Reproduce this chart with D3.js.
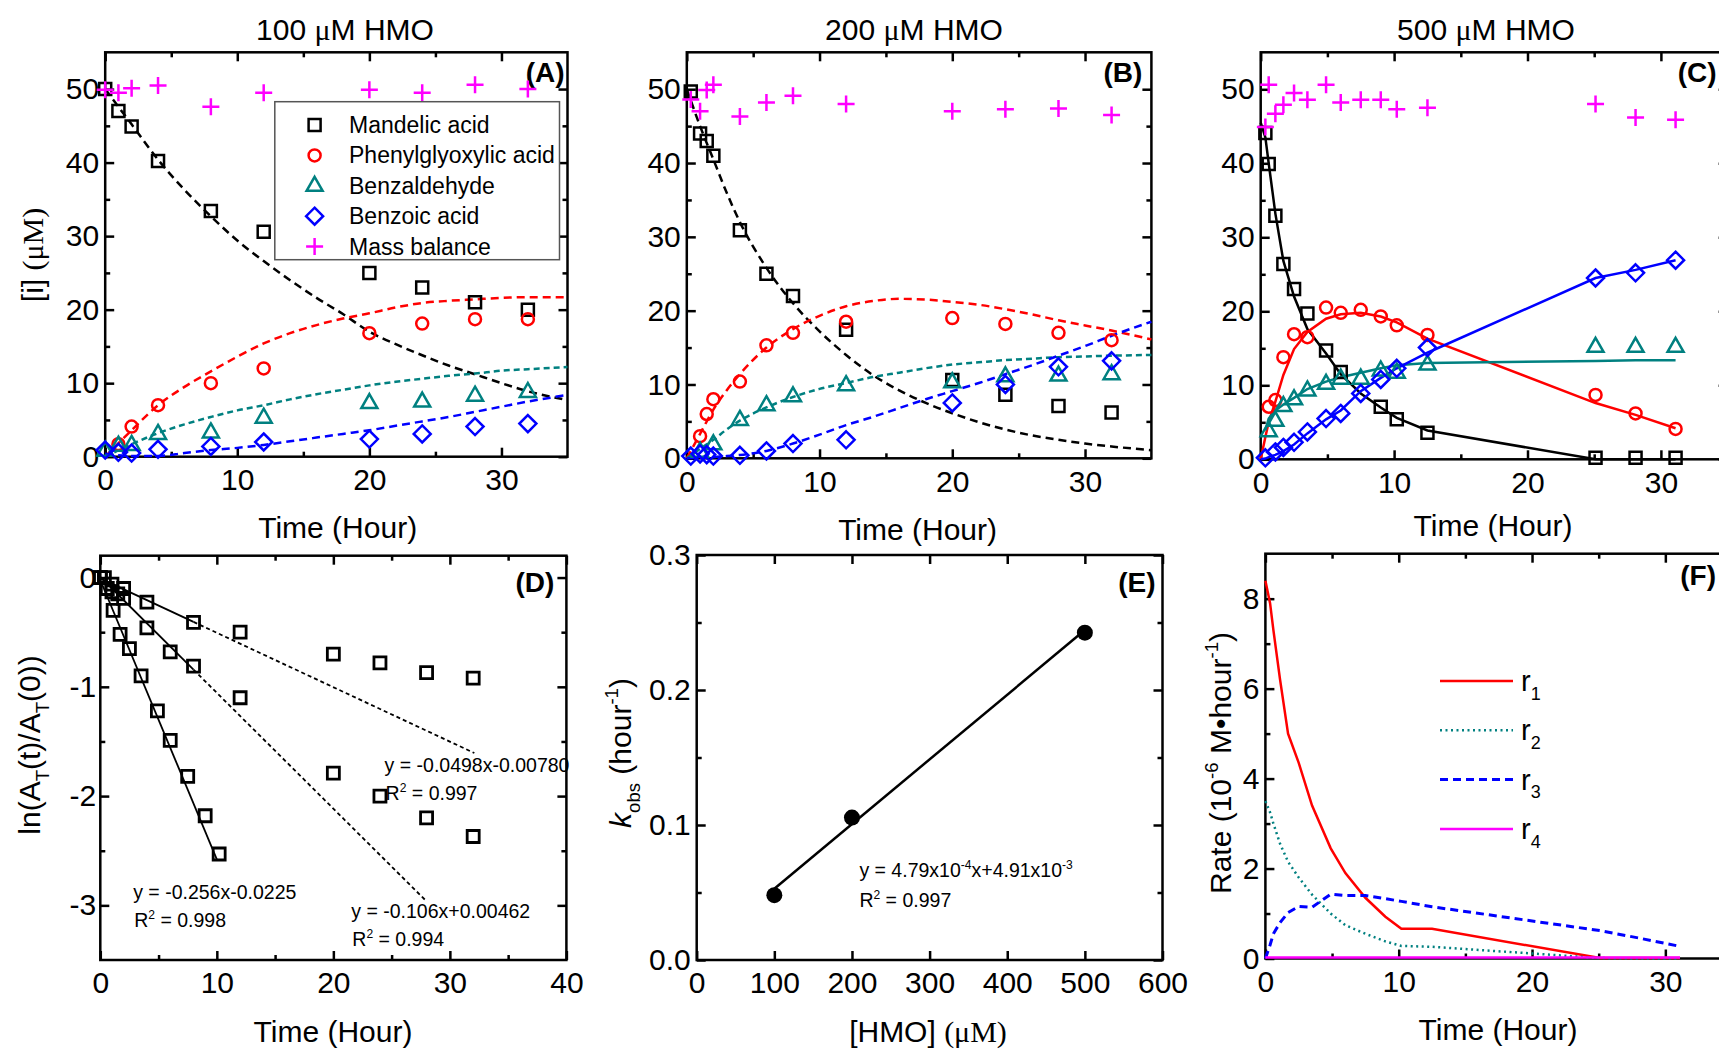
<!DOCTYPE html>
<html>
<head>
<meta charset="utf-8">
<script src="https://cdn.jsdelivr.net/npm/d3@7"></script>
<style>
body { margin: 0; background: #fff; }
svg { display: block; font-family: 'Liberation Sans', Arial, sans-serif; }
</style>
</head>
<body>
<div id="root"></div>
<script>
// ---- panel A : 100 uM HMO ----
const timeA = [0, 1, 2, 4, 8, 12, 20, 24, 28, 32];
const mandelicA = [50, 47, 44.9, 40.2, 33.4, 30.6, 25.0, 23.0, 21.0, 20.0];
const phenylA = [null, 1.7, 4.1, 7.0, 10.0, 12.0, 16.8, 18.1, 18.7, 18.7];
const benzaldehydeA = [0.8, 1.5, 1.6, 3.1, 3.3, 5.3, 7.3, 7.5, 8.3, 8.8];
const benzoicA = [0.9, 0.6, 0.5, 1.0, 1.4, 2.0, 2.4, 3.1, 4.1, 4.5];
const massA = [49.9, 49.5, 50.1, 50.5, 47.6, 49.5, 49.9, 49.5, 50.6, 50.0];
const fitTimeA = [0, 2, 4, 6, 8, 10, 12, 14, 16, 18, 20, 22, 24, 26, 28, 30, 32, 35];
const fitMandelicA = [50, 45.2, 40.4, 36.3, 32.7, 29.4, 26.6, 24.0, 21.6, 19.4, 17.0, 15.3, 13.8, 12.4, 11.2, 10.0, 8.9, 7.7];
const fitPhenylA = [0, 3.6, 7.0, 9.5, 11.6, 13.6, 15.4, 16.8, 17.9, 18.8, 19.5, 20.3, 20.9, 21.2, 21.4, 21.6, 21.7, 21.7];
const fitBenzaldehydeA = [0, 1.7, 3.2, 4.4, 5.4, 6.3, 7.0, 7.8, 8.5, 9.1, 9.7, 10.2, 10.6, 11.0, 11.3, 11.7, 11.9, 12.2];
const fitBenzoicA = [0.4, 0.1, 0.1, 0.5, 0.9, 1.2, 1.6, 2.1, 2.6, 3.1, 3.6, 4.2, 4.8, 5.4, 6.1, 6.8, 7.5, 8.4];

// ---- panel B : 200 uM HMO ----
const timeB = [0.3, 1, 1.5, 2, 4, 6, 8, 12, 20, 24, 28, 32];
const mandelicB = [49.7, 44.0, 43.0, 41.0, 30.9, 25.0, 22.0, 17.4, 10.6, 8.6, 7.1, 6.2];
const phenylB = [null, 3.0, 6.0, 8.0, 10.4, 15.3, 17.0, 18.5, 19.0, 18.2, 17.0, 16.0];
const benzaldehydeB = [null, 0.9, null, 1.9, 5.2, 7.2, 8.4, 9.9, 10.3, 11.1, 11.2, 11.4];
const benzoicB = [0.3, 0.6, 0.5, 0.3, 0.4, 1.0, 2.0, 2.5, 7.5, 10.0, 12.4, 13.2];
const massB = [48.6, 47.0, 49.9, 50.6, 46.3, 48.2, 49.1, 48.0, 47.0, 47.3, 47.4, 46.5];
const fitTimeB = [0, 1, 2, 3, 4, 6, 8, 10, 12, 14, 16, 18, 20, 22, 24, 26, 28, 30, 32, 35];
const fitMandelicB = [50, 45.0, 40.5, 36.0, 32.0, 25.8, 21.0, 17.2, 14.0, 11.3, 9.2, 7.5, 6.1, 4.9, 3.9, 3.1, 2.5, 2.0, 1.6, 1.1];
const fitPhenylB = [0, 3.3, 6.6, 9.2, 11.4, 15.0, 17.5, 19.3, 20.6, 21.3, 21.6, 21.5, 21.2, 20.8, 20.2, 19.5, 18.7, 18.0, 17.3, 16.1];
const fitBenzaldehydeB = [0, 1.3, 2.5, 3.9, 5.1, 6.9, 8.3, 9.4, 10.2, 11.0, 11.6, 12.2, 12.7, 13.0, 13.3, 13.5, 13.7, 13.8, 13.9, 14.0];
const fitBenzoicB = [0, 0.05, 0.15, 0.3, 0.45, 1.0, 2.0, 3.2, 4.5, 5.6, 6.8, 8.0, 9.1, 10.2, 11.4, 12.6, 13.9, 15.2, 16.6, 18.5];

// ---- panel C : 500 uM HMO ----
const timeC = [0.35, 0.6, 1.1, 1.7, 2.5, 3.5, 4.9, 6.0, 7.5, 9.0, 10.2, 12.5, 25.1, 28.1, 31.1];
const mandelicC = [44.1, 39.9, 32.9, 26.4, 23.0, 19.7, 14.7, 11.8, null, 7.1, 5.4, 3.6, 0.2, 0.2, 0.2];
const phenylC = [null, 7.1, 8.0, 13.8, 16.9, 16.5, 20.5, 19.8, 20.2, 19.3, 18.1, 16.8, 8.7, 6.2, 4.1];
const benzaldehydeC = [null, 3.8, 5.2, 7.2, 8.1, 9.3, 10.2, 10.9, 10.9, 12.0, 11.7, 12.8, 15.2, 15.2, 15.2];
const benzoicC = [0.2, null, 1.0, 1.6, 2.3, 3.7, 5.5, 6.2, 8.9, 10.8, 12.3, 15.1, 24.5, 25.2, 26.9];
const massC = [44.9, 50.6, 46.7, 47.9, 49.5, 48.6, 50.6, 48.2, 48.6, 48.6, 47.3, 47.5, 48.0, 46.2, 45.9];
const fitTimeC = [0, 0.35, 0.6, 1.1, 1.7, 2.5, 3.5, 4.9, 6.0, 7.5, 9.0, 10.2, 12.5, 25.1, 28.1, 31.1];
const fitMandelicC = [45.5, 43.5, 40.0, 33.2, 26.8, 22.0, 17.6, 14.3, 11.5, 8.9, 7.0, 5.6, 3.9, 0, 0, 0];
const fitPhenylC = [0, 3.0, 5.0, 7.8, 11.4, 14.9, 17.2, 19.0, 19.6, 19.8, 19.3, 18.5, 16.3, 7.6, 6.0, 4.2];
const fitBenzaldehydeC = [null, 3.9, 5.5, 6.6, 7.4, 8.3, 9.5, 10.5, 11.1, 11.7, 12.3, 12.7, 13.0, 13.3, 13.4, 13.4];
const fitBenzoicC = [0, 0.1, 0.3, 0.6, 1.1, 2.0, 3.5, 5.4, 6.6, 9.2, 11.0, 12.3, 14.4, 24.5, 25.6, 26.9];

// ---- panel D : ln(A_T(t)/A_T(0)) ----
const timeD1 = [0, 1, 2, 4, 8, 12, 20, 24, 28, 32];
const lnD1 = [0, -0.06, -0.10, -0.225, -0.41, -0.50, -0.70, -0.78, -0.87, -0.92];
const timeD2 = [0, 1, 1.5, 2, 4, 6, 8, 12, 20, 24, 28, 32];
const lnD2 = [0, -0.13, -0.15, -0.19, -0.46, -0.68, -0.81, -1.10, -1.79, -2.0, -2.2, -2.37];
const timeD3 = [0.35, 0.6, 1.1, 1.7, 2.5, 3.5, 4.9, 6.0, 7.5, 9.0, 10.2];
const lnD3 = [0, -0.10, -0.30, -0.52, -0.65, -0.90, -1.22, -1.49, -1.82, -2.18, -2.53];
const fitD1T = [0, 8, 32.1];
const fitD1V = [-0.008, -0.406, -1.606];
const fitD2T = [0, 8, 28];
const fitD2V = [0.005, -0.843, -2.963];
const fitD3T = [0, 10.0];
const fitD3V = [-0.0225, -2.58];

// ---- panel E : k_obs vs [HMO] ----
const hmo = [100, 200, 500];
const kobs = [0.048, 0.1055, 0.2425];
const fitHmo = [100, 500];
const fitK = [0.0528, 0.2444];

// ---- panel F : rates at 500 uM ----
const timeF = [0, 0.35, 0.6, 1.1, 1.7, 2.5, 3.5, 4.9, 6.0, 7.5, 9.0, 10.2, 12.5, 25.1, 28.1, 31.1];
const r1 = [8.4, 7.9, 7.3, 6.2, 5.0, 4.35, 3.4, 2.45, 1.9, 1.35, 0.93, 0.66, 0.66, 0.01, 0.01, 0.01];
const r2 = [3.5, 3.25, 3.0, 2.55, 2.15, 1.8, 1.42, 1.0, 0.74, 0.55, 0.38, 0.28, 0.26, 0.01, 0.0, 0.0];
const r3 = [0, 0.3, 0.55, 0.8, 1.02, 1.16, 1.14, 1.43, 1.40, 1.40, 1.33, 1.27, 1.15, 0.62, 0.45, 0.27];
const r4 = [0.02, 0.02, 0.02, 0.02, 0.02, 0.02, 0.02, 0.02, 0.02, 0.02, 0.02, 0.02, 0.02, 0.02, 0.02, 0.02];

const legendNames = ['Mandelic acid', 'Phenylglyoxylic acid', 'Benzaldehyde', 'Benzoic acid', 'Mass balance'];
const rateNames = ['1', '2', '3', '4'];

const TICK_FONT = 30;
const LABEL_FONT = 30;
const SERIF = "'Liberation Serif', 'Times New Roman', serif";

const svg = d3.select('#root')
    .append('svg')
    .attr('width', 1719)
    .attr('height', 1049);

const shapes = {
    square: 'M-6,-6H6V6H-6Z',
    circle: 'M6,0A6,6 0 1,1 -6,0A6,6 0 1,1 6,0Z',
    triangle: 'M0,-9L8,5L-8,5Z',
    diamond: 'M0,-8.5L8.5,0L0,8.5L-8.5,0Z',
    plus: 'M-8.5,0H8.5M0,-8.5V8.5'
};
const species = [
    {shape: 'square', color: '#000000'},
    {shape: 'circle', color: '#ff0000'},
    {shape: 'triangle', color: '#008080'},
    {shape: 'diamond', color: '#0000ff'},
    {shape: 'plus', color: '#ff00ff'}
];

// text with sub / sup / serif / italic pieces
const richText = (sel, parts, size) => {
    let shift = 0;
    parts.forEach(([txt, kind]) => {
        const ts = sel.append('tspan').text(txt);
        let target = 0;
        if (kind === 'sup') { target = -size * 0.42; ts.attr('font-size', size * 0.62); }
        if (kind === 'sub') { target = size * 0.3; ts.attr('font-size', size * 0.62); }
        if (kind === 'serif') ts.attr('font-family', SERIF);
        if (kind === 'it') ts.attr('font-style', 'italic');
        if (target !== shift) { ts.attr('dy', target - shift); shift = target; }
    });
    return sel;
};

const makePanel = (cfg) => {
    const x = d3.scaleLinear().domain(cfg.xDomain).range([cfg.left, cfg.right]);
    const y = d3.scaleLinear().domain(cfg.yDomain).range([cfg.bottom, cfg.top]);
    const g = svg.append('g');
    const fmtX = cfg.xFmt || (d => String(d));
    const fmtY = cfg.yFmt || (d => String(d));

    const put = (axis, tr, size, fmt, pad) => g.append('g')
        .attr('transform', tr)
        .call(axis.tickSize(-size).tickSizeOuter(0).tickPadding(pad || 8).tickFormat(fmt || ''))
        .call(s => s.select('.domain').remove())
        .call(s => s.selectAll('.tick line').attr('stroke', '#000').attr('stroke-width', 2.5))
        .call(s => s.selectAll('text')
            .style('font-size', `${TICK_FONT}px`)
            .style('font-family', "'Liberation Sans', Arial, sans-serif")
            .attr('fill', '#000'));

    // minor ticks
    if (cfg.xMinor) {
        put(d3.axisBottom(x).tickValues(cfg.xMinor), `translate(0,${cfg.bottom})`, 5);
        put(d3.axisTop(x).tickValues(cfg.xMinor), `translate(0,${cfg.top})`, 5);
    }
    if (cfg.yMinor) {
        put(d3.axisLeft(y).tickValues(cfg.yMinor), `translate(${cfg.left},0)`, 5);
        put(d3.axisRight(y).tickValues(cfg.yMinor), `translate(${cfg.right},0)`, 5);
    }
    // major ticks, labels on bottom/left only
    put(d3.axisBottom(x).tickValues(cfg.xTicks), `translate(0,${cfg.bottom})`, 9, fmtX, 12);
    put(d3.axisTop(x).tickValues(cfg.xTicks), `translate(0,${cfg.top})`, 9);
    put(d3.axisLeft(y).tickValues(cfg.yTicks), `translate(${cfg.left},0)`, 9, fmtY, cfg.yPad || 6);
    put(d3.axisRight(y).tickValues(cfg.yTicks), `translate(${cfg.right},0)`, 9);

    g.append('rect')
        .attr('x', cfg.left)
        .attr('y', cfg.top)
        .attr('width', cfg.right - cfg.left)
        .attr('height', cfg.bottom - cfg.top)
        .attr('fill', 'none')
        .attr('stroke', '#000')
        .attr('stroke-width', 2.5);

    g.append('text')
        .attr('x', cfg.right - cfg.tagDx)
        .attr('y', cfg.top + cfg.tagDy)
        .attr('text-anchor', 'end')
        .attr('font-weight', 'bold')
        .attr('font-size', 28)
        .text(cfg.tag);

    return {g, x, y};
};

const pairs = (xs, ys) => xs.map((t, i) => [t, ys[i]]).filter(d => d[1] != null);

const drawPoints = (p, xs, ys, shape, color, width) => {
    p.g.append('g')
        .selectAll('path')
        .data(pairs(xs, ys))
        .join('path')
        .attr('d', shapes[shape])
        .attr('transform', d => `translate(${p.x(d[0])},${p.y(d[1])})`)
        .attr('fill', 'none')
        .attr('stroke', color)
        .attr('stroke-width', width || 2.5);
};

const drawCurve = (p, xs, ys, color, dash, width, curve) => {
    const line = d3.line()
        .x(d => p.x(d[0]))
        .y(d => p.y(d[1]))
        .curve(curve || d3.curveLinear);
    p.g.append('path')
        .attr('d', line(pairs(xs, ys)))
        .attr('fill', 'none')
        .attr('stroke', color)
        .attr('stroke-width', width || 2.5)
        .attr('stroke-dasharray', dash);
};

const concCfg = {
    xDomain: [0, 35], yDomain: [0, 55],
    xTicks: [0, 10, 20, 30], xMinor: [5, 15, 25],
    yTicks: [0, 10, 20, 30, 40, 50], yMinor: [5, 15, 25, 35, 45],
    tagDy: 30
};

const title = (cx, label) => svg.append('text')
    .attr('x', cx).attr('y', 40)
    .attr('text-anchor', 'middle')
    .attr('font-size', LABEL_FONT)
    .call(s => richText(s, [[`${label} `, ''], ['\u03bc', 'serif'], ['M HMO', '']], LABEL_FONT));

const xTitle = (cx, cy, parts) => svg.append('text')
    .attr('x', cx).attr('y', cy)
    .attr('text-anchor', 'middle')
    .attr('font-size', LABEL_FONT)
    .call(s => richText(s, parts, LABEL_FONT));

const yTitle = (cx, cy, parts) => svg.append('text')
    .attr('transform', `translate(${cx},${cy}) rotate(-90)`)
    .attr('text-anchor', 'middle')
    .attr('font-size', LABEL_FONT)
    .call(s => richText(s, parts, LABEL_FONT));

const timeParts = [['Time (Hour)', '']];

// ---------- A ----------
const pA = makePanel({...concCfg, left: 105.2, right: 567.5, top: 52.3, bottom: 456.7, tag: '(A)', tagDx: 3});
[fitMandelicA, fitPhenylA, fitBenzaldehydeA, fitBenzoicA].forEach((s, i) =>
    drawCurve(pA, fitTimeA, s, species[i].color, i === 2 ? '6,4' : '8,5', 2.5, d3.curveMonotoneX));
[mandelicA, phenylA, benzaldehydeA, benzoicA, massA].forEach((s, i) =>
    drawPoints(pA, timeA, s, species[i].shape, species[i].color));

// legend
const legend = svg.append('g');
legend.append('rect')
    .attr('x', 274.8).attr('y', 101.7)
    .attr('width', 284.7).attr('height', 158)
    .attr('fill', '#fff')
    .attr('stroke', '#555')
    .attr('stroke-width', 1.5);
legendNames.forEach((name, i) => {
    const ly = 125 + i * 30.4;
    legend.append('path')
        .attr('d', shapes[species[i].shape])
        .attr('transform', `translate(314.6,${ly})`)
        .attr('fill', 'none')
        .attr('stroke', species[i].color)
        .attr('stroke-width', 2.5);
    legend.append('text')
        .attr('x', 349).attr('y', ly + 8)
        .attr('font-size', 23)
        .text(name);
});
title(345, '100');
xTitle(337.7, 538, timeParts);
yTitle(43, 255, [['[i] ', ''], ['(\u03bcM)', 'serif']]);

// ---------- B ----------
const pB = makePanel({...concCfg, left: 686.8, right: 1151.4, top: 52.3, bottom: 458.3, tag: '(B)', tagDx: 9});
[fitMandelicB, fitPhenylB, fitBenzaldehydeB, fitBenzoicB].forEach((s, i) =>
    drawCurve(pB, fitTimeB, s, species[i].color, i === 2 ? '6,4' : '8,5', 2.5, d3.curveMonotoneX));
[mandelicB, phenylB, benzaldehydeB, benzoicB, massB].forEach((s, i) =>
    drawPoints(pB, timeB, s, species[i].shape, species[i].color));
title(914, '200');
xTitle(917.6, 540, timeParts);

// ---------- C ----------
const pC = makePanel({...concCfg, left: 1260.7, right: 1727.6, top: 52.3, bottom: 459.3, tag: '(C)', tagDx: 11});
[fitMandelicC, fitPhenylC, fitBenzaldehydeC, fitBenzoicC].forEach((s, i) =>
    drawCurve(pC, fitTimeC, s, species[i].color, null, 2.5));
[mandelicC, phenylC, benzaldehydeC, benzoicC, massC].forEach((s, i) =>
    drawPoints(pC, timeC, s, species[i].shape, species[i].color));
title(1486, '500');
xTitle(1493, 536, timeParts);

// ---------- D ----------
const pD = makePanel({
    left: 100.3, right: 566.4, top: 555.7, bottom: 960,
    xDomain: [0, 40], yDomain: [-3.5, 0.2],
    xTicks: [0, 10, 20, 30, 40], xMinor: [5, 15, 25, 35],
    yTicks: [0, -1, -2, -3], yMinor: [-0.5, -1.5, -2.5],
    yPad: 4, tag: '(D)', tagDx: 12, tagDy: 36
});
[[fitD1T, fitD1V], [fitD2T, fitD2V], [fitD3T, fitD3V]].forEach(([ts, vs]) => {
    drawCurve(pD, ts.slice(0, 2), vs.slice(0, 2), '#000', null, 1.8);
    if (ts.length > 2) drawCurve(pD, ts.slice(1), vs.slice(1), '#000', '4,3', 1.8);
});
[[timeD1, lnD1], [timeD2, lnD2], [timeD3, lnD3]].forEach(([ts, vs]) =>
    drawPoints(pD, ts, vs, 'square', '#000', 2.8));

const eqD = [
    {x: 384.6, y: 772, t: 'y = -0.0498x-0.00780', r: '0.997'},
    {x: 133.2, y: 899, t: 'y = -0.256x-0.0225', r: '0.998'},
    {x: 351.3, y: 918, t: 'y = -0.106x+0.00462', r: '0.994'}
];
eqD.forEach(e => {
    svg.append('text').attr('x', e.x).attr('y', e.y).attr('font-size', 19.5).text(e.t);
    svg.append('text').attr('x', e.x + 1).attr('y', e.y + 28).attr('font-size', 19.5)
        .call(s => richText(s, [['R', ''], ['2', 'sup'], [` = ${e.r}`, '']], 19.5));
});
xTitle(333, 1042, timeParts);
yTitle(40, 745, [['ln(A', ''], ['T', 'sub'], ['(t)/A', ''], ['T', 'sub'], ['(0))', '']]);

// ---------- E ----------
const pE = makePanel({
    left: 696.7, right: 1162.5, top: 555, bottom: 960,
    xDomain: [0, 600], yDomain: [0, 0.3],
    xTicks: [0, 100, 200, 300, 400, 500, 600],
    yTicks: [0, 0.1, 0.2, 0.3], yMinor: [0.05, 0.15, 0.25],
    yFmt: d3.format('.1f'), tag: '(E)', tagDx: 7, tagDy: 37
});
drawCurve(pE, fitHmo, fitK, '#000', null, 2.5);
pE.g.append('g')
    .selectAll('circle')
    .data(pairs(hmo, kobs))
    .join('circle')
    .attr('cx', d => pE.x(d[0]))
    .attr('cy', d => pE.y(d[1]))
    .attr('r', 8)
    .attr('fill', '#000');
svg.append('text').attr('x', 859.4).attr('y', 877).attr('font-size', 19.5)
    .call(s => richText(s, [['y = 4.79x10', ''], ['-4', 'sup'], ['x+4.91x10', ''], ['-3', 'sup']], 19.5));
svg.append('text').attr('x', 859.4).attr('y', 907).attr('font-size', 19.5)
    .call(s => richText(s, [['R', ''], ['2', 'sup'], [' = 0.997', '']], 19.5));
xTitle(928, 1042, [['[HMO] ', ''], ['(\u03bcM)', 'serif']]);
yTitle(631, 753, [['k', 'it'], ['obs', 'sub'], [' (hour', ''], ['-1', 'sup'], [')', '']]);

// ---------- F ----------
const pF = makePanel({
    left: 1265.4, right: 1732, top: 553.7, bottom: 958.5,
    xDomain: [0, 35], yDomain: [0, 9],
    xTicks: [0, 10, 20, 30], xMinor: [5, 15, 25],
    yTicks: [0, 2, 4, 6, 8], yMinor: [1, 3, 5, 7],
    tag: '(F)', tagDx: 16, tagDy: 31
});
const rateStyles = [
    {color: '#ff0000', dash: null, width: 2.5},
    {color: '#008080', dash: '2,3.5', width: 2.5},
    {color: '#0000ff', dash: '8,5', width: 3},
    {color: '#ff00ff', dash: null, width: 2.5}
];
[r1, r2, r3, r4].forEach((s, i) =>
    drawCurve(pF, timeF, s, rateStyles[i].color, rateStyles[i].dash, rateStyles[i].width));
rateNames.forEach((n, i) => {
    const ly = 681 + i * 49.3;
    svg.append('line')
        .attr('x1', 1440).attr('x2', 1513)
        .attr('y1', ly).attr('y2', ly)
        .attr('stroke', rateStyles[i].color)
        .attr('stroke-width', rateStyles[i].width)
        .attr('stroke-dasharray', rateStyles[i].dash);
    svg.append('text').attr('x', 1521).attr('y', ly + 10).attr('font-size', 29)
        .call(s => richText(s, [['r', ''], [n, 'sub']], 29));
});
xTitle(1498, 1040, timeParts);
yTitle(1231, 763, [['Rate (10', ''], ['-6', 'sup'], [' M\u2022hour', ''], ['-1', 'sup'], [')', '']]);
</script>
</body>
</html>
